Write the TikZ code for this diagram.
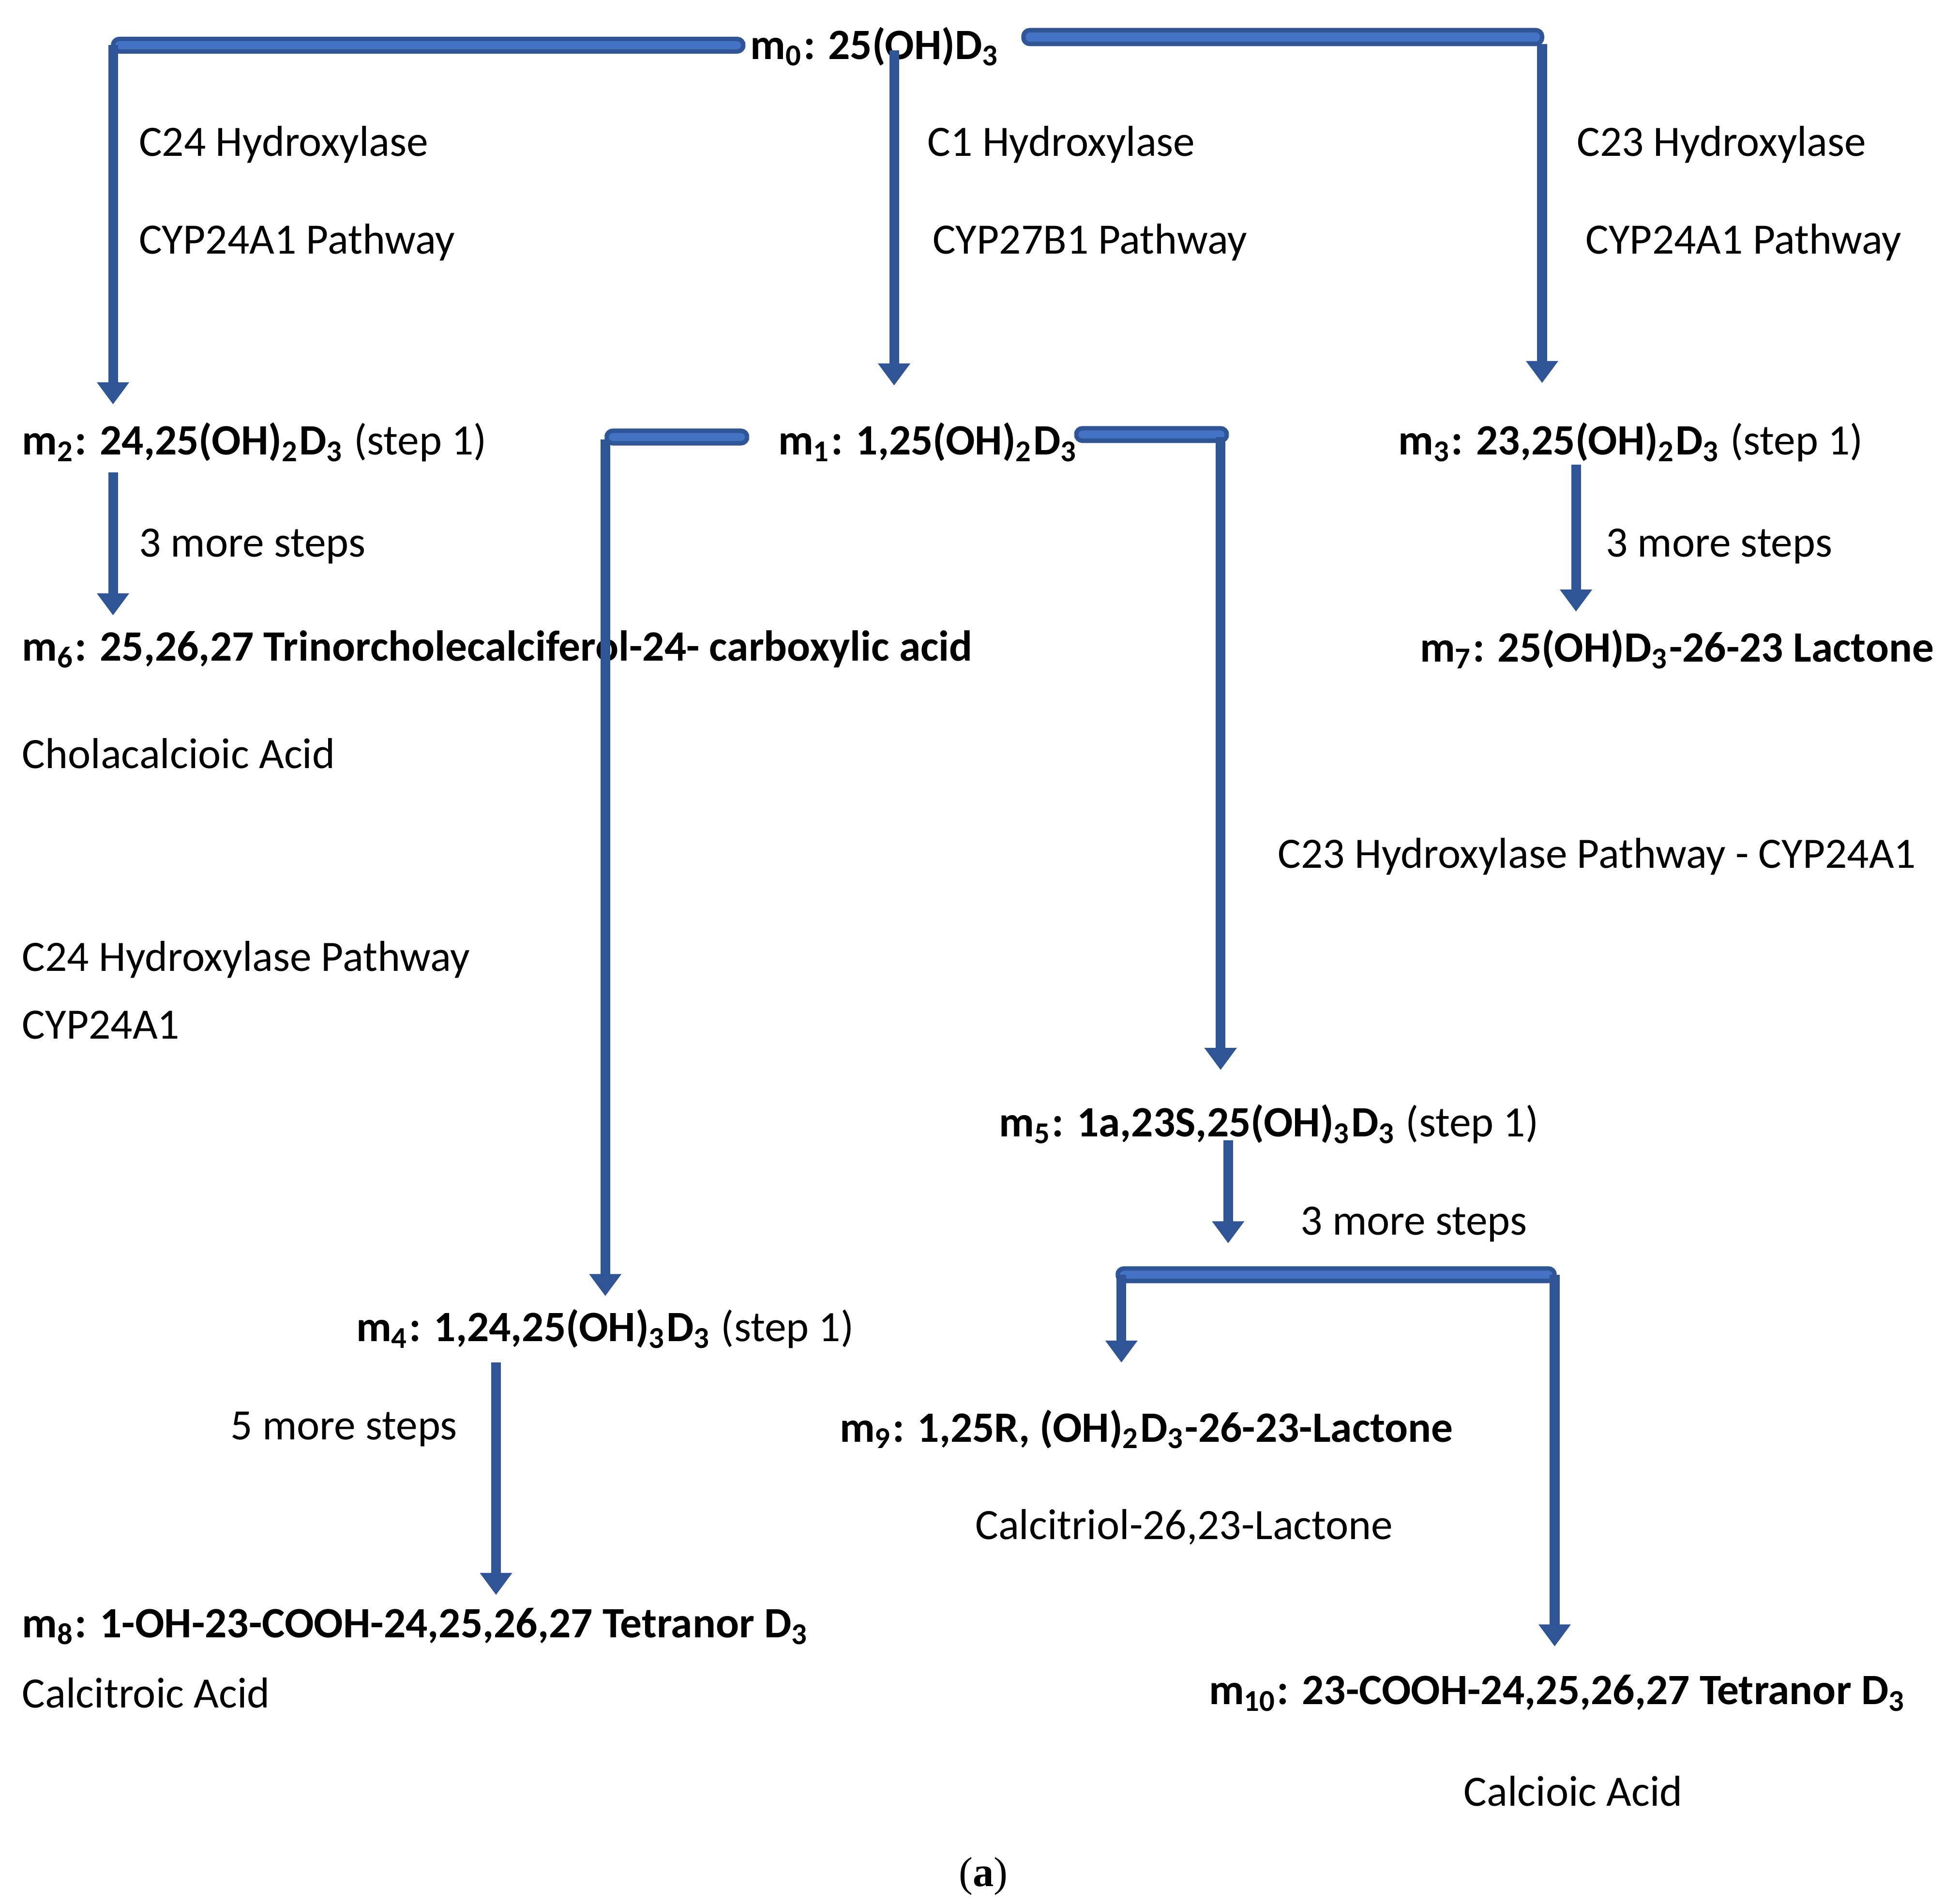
\documentclass[tikz,border=0pt]{standalone}
\usepackage{fontspec}
\setmainfont{Carlito}
\newfontfamily\serifa{Liberation Serif}
\usetikzlibrary{arrows.meta}
\definecolor{barfill}{HTML}{4472C4}
\definecolor{barline}{HTML}{2F5597}
\newcommand{\sbs}[1]{\textsubscript{#1}}
\begin{document}
\begin{tikzpicture}[x=0.01cm,y=-0.01cm,
 txt/.style={anchor=west,inner sep=0pt,font=\fontsize{9.8pt}{12pt}\selectfont},
 bar/.style={fill=barfill,draw=barline,line width=1pt,rounded corners=0.5mm},
 arr/.style={draw=barline,line width=2.2pt,-{Triangle[width=7pt,length=5pt]}}]
\useasboundingbox (0,0) rectangle (1560,1516);
% texts
\node[txt] (m0) at (597,37) {\textbf{m\sbs{0}: 25(OH)D\sbs{3}}};
\node[txt] (l1) at (110,115) {C24 Hydroxylase};
\node[txt] (l2) at (110,193) {CYP24A1 Pathway};
\node[txt] (l3) at (738,115) {C1 Hydroxylase};
\node[txt] (l4) at (742,193) {CYP27B1 Pathway};
\node[txt] (l5) at (1255,115) {C23 Hydroxylase};
\node[txt] (l6) at (1262,193) {CYP24A1 Pathway};
\node[txt] (m2) at (17,352) {\textbf{m\sbs{2}: 24,25(OH)\sbs{2}D\sbs{3}} (step 1)};
\node[txt] (m1) at (619,352) {\textbf{m\sbs{1}: 1,25(OH)\sbs{2}D\sbs{3}}};
\node[txt] (m3) at (1113,352) {\textbf{m\sbs{3}: 23,25(OH)\sbs{2}D\sbs{3}} (step 1)};
\node[txt] (s1) at (110,435) {3 more steps};
\node[txt] (s2) at (1278,435) {3 more steps};
\node[txt] (m6) at (17,517) {\textbf{m\sbs{6}: 25,26,27 Trinorcholecalciferol-24- carboxylic acid}};
\node[txt] (m7) at (1130,517) {\textbf{m\sbs{7}: 25(OH)D\sbs{3}-26-23 Lactone}};
\node[txt] (c6) at (17,600) {Cholacalcioic Acid};
\node[txt] (l7) at (1017,682) {C23 Hydroxylase Pathway - CYP24A1};
\node[txt] (l8) at (17,764) {C24 Hydroxylase Pathway};
\node[txt] (l9) at (17,816) {CYP24A1};
\node[txt] (m5) at (795,895) {\textbf{m\sbs{5}: 1a,23S,25(OH)\sbs{3}D\sbs{3}} (step 1)};
\node[txt] (s3) at (1035,975) {3 more steps};
\node[txt] (m4) at (283,1058) {\textbf{m\sbs{4}: 1,24,25(OH)\sbs{3}D\sbs{3}} (step 1)};
\node[txt] (s4) at (183,1138) {5 more steps};
\node[txt] (m9) at (668,1138) {\textbf{m\sbs{9}: 1,25R, (OH)\sbs{2}D\sbs{3}-26-23-Lactone}};
\node[txt] (c9) at (776,1216) {Calcitriol-26,23-Lactone};
\node[txt] (m8) at (17,1295) {\textbf{m\sbs{8}: 1-OH-23-COOH-24,25,26,27 Tetranor D\sbs{3}}};
\node[txt] (c8) at (17,1348) {Calcitroic Acid};
\node[txt] (m10) at (962,1348) {\textbf{m\sbs{10}: 23-COOH-24,25,26,27 Tetranor D\sbs{3}}};
\node[txt] (c10) at (1165,1426) {Calcioic Acid};
\node[inner sep=0pt,font=\serifa\fontsize{9.5pt}{12pt}\selectfont] (cap) at (783,1494) {(\textbf{a})};
% bars
\draw[bar] (90,31) rectangle (592,41);
\draw[bar] (815,24) rectangle (1228,35);
\draw[bar] (483,343) rectangle (595,353);
\draw[bar] (857,341) rectangle (977,351);
\draw[bar] (890,1010) rectangle (1238,1020);
% coordinates
\coordinate (a1s) at (90,36);  \coordinate (a1e) at (90,322);
\coordinate (a2s) at (712,40); \coordinate (a2e) at (712,307);
\coordinate (a3s) at (1228,35);\coordinate (a3e) at (1228,305);
\coordinate (a4s) at (90,376); \coordinate (a4e) at (90,490);
\coordinate (a5s) at (1255,370);\coordinate (a5e) at (1255,487);
\coordinate (a6s) at (482,350);\coordinate (a6e) at (482,1032);
\coordinate (a7s) at (972,348);\coordinate (a7e) at (972,852);
\coordinate (a8s) at (978,908);\coordinate (a8e) at (978,990);
\coordinate (a9s) at (893,1015);\coordinate (a9e) at (893,1085);
\coordinate (a10s) at (1238,1015);\coordinate (a10e) at (1238,1311);
\coordinate (a11s) at (395,1085);\coordinate (a11e) at (395,1270);
\foreach \n in {1,...,11}{\draw[arr] (a\n s) -- (a\n e);}
\end{tikzpicture}
\end{document}
